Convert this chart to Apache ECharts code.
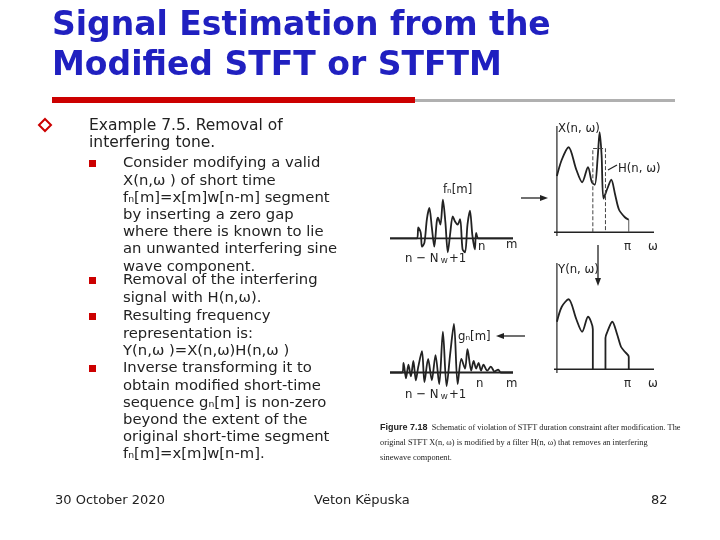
<!DOCTYPE html>
<html><head><meta charset="utf-8">
<script src="https://cdn.jsdelivr.net/npm/echarts@6/dist/echarts.min.js"></script>
<style>html,body{margin:0;padding:0;background:#fff}#c{width:720px;height:540px}</style>
</head><body><div id="c"></div>
<script>
// Waveform / spectrum values
const fnSignal = [[0,0],[22,0],[23,8],[25,4],[26,-6],[28,-3],[30,14],[32,22],[34,8],[36,-6],[38,12],[39,15],[41,10],[43,28],[45,12],[47,-10],[49,4],[51,16],[53,12],[55,10],[57,14],[59,-8],[61,-10],[63,10],[65,20],[67,2],[69,-8],[70,4],[72,0],[100,0]];
const xSpectrum = [[0,45],[5,58],[12,68],[20,50],[26,40],[32,52],[36,40],[39,38],[42,60],[44,80],[46,62],[48,27],[52,35],[56,42],[60,30],[64,18],[70,12],[74,10]];
const hFilter = [[37,0],[37,67],[50,67],[50,0]];
const ySpectrumA = [[0,38],[5,50],[12,56],[20,40],[26,30],[32,42],[37,32],[37,0]];
const ySpectrumB = [[50,0],[50,25],[52,30],[57,38],[62,28],[66,18],[70,14],[74,10],[74,0]];
const gnSignal = [[0,0],[10,0],[11,10],[13,-6],[15,8],[17,-4],[19,12],[21,-8],[23,6],[26,22],[28,-10],[31,14],[34,-8],[37,18],[40,-12],[43,42],[46,-14],[49,20],[52,50],[55,-12],[58,14],[61,4],[63,24],[66,2],[68,12],[70,4],[72,10],[74,2],[76,8],[79,2],[82,6],[85,1],[88,3],[90,0],[100,0]];
const bullets = ["Consider modifying a valid\nX(n,ω ) of short time\nfₙ[m]=x[m]w[n-m] segment\nby inserting a zero gap\nwhere there is known to lie\nan unwanted interfering sine\nwave component.","Removal of the interfering\nsignal with H(n,ω).","Resulting frequency\nrepresentation is:\nY(n,ω )=X(n,ω)H(n,ω )","Inverse transforming it to\nobtain modified short-time\nsequence gₙ[m] is non-zero\nbeyond the extent of the\noriginal short-time segment\nfₙ[m]=x[m]w[n-m]."];
const bulletY = [155, 272, 308, 360];

const chart = echarts.init(document.getElementById('c'));
const ax = (i, min, max) => ({gridIndex:i, type:'value', min, max, show:false});
const grids = [
  {left:390, top:190, width:123, height:65},
  {left:554, top:126, width:100, height:110},
  {left:554, top:263, width:100, height:110},
  {left:390, top:324, width:123, height:65}
];
const ln = (i, data, extra) => Object.assign({type:'line', xAxisIndex:i, yAxisIndex:i, data, smooth:0.3, symbol:'none', lineStyle:{color:'#222', width:1.8}, animation:false}, extra||{});
const T = (x,y,text,style) => ({type:'text', left:x, top:y, style:Object.assign({text, fill:'#222', font:'13px "Liberation Sans Narrow", "DejaVu Sans Condensed", sans-serif'}, style||{})});
const L = (x1,y1,x2,y2,st) => ({type:'line', shape:{x1,y1,x2,y2}, style:Object.assign({stroke:'#222', lineWidth:1.3}, st||{})});
const BF = '"DejaVu Sans", Verdana, sans-serif';

const g = [
  T(52,6,'Signal Estimation from the\nModified STFT or STFTM',{font:'bold 33px '+BF, fill:'#2020c0', lineHeight:40}),
  {type:'rect', shape:{x:52,y:97,width:363,height:6}, style:{fill:'#cc0000'}},
  {type:'rect', shape:{x:415,y:99,width:260,height:3}, style:{fill:'#b0b0b0'}},
  {type:'polygon', shape:{points:[[45,119],[51,125],[45,131],[39,125]]}, style:{fill:'none', stroke:'#cc0000', lineWidth:2}},
  T(89,117,'Example 7.5. Removal of\ninterfering tone.',{font:'15.5px '+BF, lineHeight:17}),
  T(55,494,'30 October 2020',{font:'13px '+BF}),
  T(314,494,'Veton Këpuska',{font:'13px '+BF}),
  T(651,494,'82',{font:'13px '+BF}),
  // figure labels
  T(443,183,'fₙ[m]'), T(405,252,'n − N',{}), T(441,256,'w',{font:'9px sans-serif'}), T(449,252,'+1'),
  T(478,240,'n'), T(506,238,'m'),
  T(558,122,'X(n, ω)'), T(618,162,'H(n, ω)'), T(624,240,'π'), T(648,240,'ω'),
  T(558,263,'Y(n, ω)'), T(624,377,'π'), T(648,377,'ω'),
  T(458,330,'gₙ[m]'), T(405,388,'n − N',{}), T(441,392,'w',{font:'9px sans-serif'}), T(449,388,'+1'),
  T(476,377,'n'), T(506,377,'m'),
  L(608,170,617,165),
  L(521,198,545,198), {type:'polygon', shape:{points:[[548,198],[540,195],[540,201]]}, style:{fill:'#222'}},
  L(598,245,598,282), {type:'polygon', shape:{points:[[598,286],[595,278],[601,278]]}, style:{fill:'#222'}},
  L(525,336,500,336), {type:'polygon', shape:{points:[[496,336],[504,333],[504,339]]}, style:{fill:'#222'}},
  {type:'text', left:380, top:420, style:{
    text:'{b|Figure 7.18}  Schematic of violation of STFT duration constraint after modification. The\noriginal STFT X(n, ω) is modified by a filter H(n, ω) that removes an interfering\nsinewave component.',
    font:'8.3px "Liberation Serif", serif', lineHeight:15, fill:'#222',
    rich:{b:{font:'bold 9px "Liberation Sans Narrow", sans-serif', fill:'#222'}}}}
];
bullets.forEach((b,i)=>{
  g.push({type:'rect', shape:{x:89,y:bulletY[i]+5,width:7,height:7}, style:{fill:'#cc0000'}});
  g.push(T(123,bulletY[i],b,{font:'14.8px '+BF, lineHeight:17.2}));
});

chart.setOption({
  animation:false,
  grid: grids,
  xAxis: [ax(0,0,100), ax(1,-3,100), ax(2,-3,100), ax(3,0,100)],
  yAxis: [ax(0,-12,35), ax(1,-3,85), ax(2,-3,85), ax(3,-17,50)],
  series: [
    ln(0, fnSignal),
    ln(0, [[0,0],[100,0]], {smooth:false, lineStyle:{color:'#222',width:1.8}}),
    ln(1, [[-3,0],[100,0]], {smooth:false, lineStyle:{color:'#222',width:1.6}}),
    ln(1, [[0,-3],[0,85]], {smooth:false, lineStyle:{color:'#222',width:1.2}}),
    ln(1, xSpectrum),
    ln(1, [[74,10],[74,0]], {smooth:false, lineStyle:{color:'#555',width:1}}),
    ln(1, hFilter, {smooth:false, lineStyle:{color:'#444',width:1,type:'dashed'}}),
    ln(2, [[-3,0],[100,0]], {smooth:false, lineStyle:{color:'#222',width:1.6}}),
    ln(2, [[0,-3],[0,85]], {smooth:false, lineStyle:{color:'#222',width:1.2}}),
    ln(2, ySpectrumA), ln(2, ySpectrumB),
    ln(3, gnSignal),
    ln(3, [[0,0],[100,0]], {smooth:false, lineStyle:{color:'#222',width:1.8}})
  ],
  graphic: g
});
</script></body></html>
